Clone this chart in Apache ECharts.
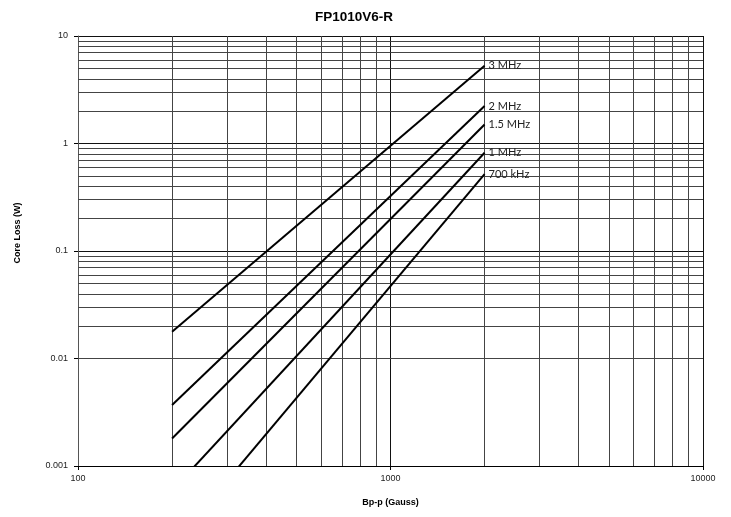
<!DOCTYPE html>
<html>
<head>
<meta charset="utf-8">
<script src="https://cdn.jsdelivr.net/npm/echarts@6/dist/echarts.min.js"></script>
<style>
    html, body { margin: 0; padding: 0; background: #fff; }
    #chart { width: 731px; height: 517px; }
</style>
</head>
<body>
<div id="chart"></div>
<script>
    // 曲线名称（频率）
    let seriesNames = ['3 MHz', '2 MHz', '1.5 MHz', '1 MHz', '700 kHz'];
    // Bp-p (Gauss) 取值点
    let fluxPoints = [200, 2000];
    // 各频率下的损耗 (W)
    let loss3MHz = [0.0177, 5.3];
    let loss2MHz = [0.0037, 2.23];
    let loss15MHz = [0.0018, 1.5];
    let loss1MHz = [0.00059, 0.82];
    let loss700kHz = [0.00018, 0.52];
    // 坐标轴刻度
    let xTicks = [100, 1000, 10000];
    let yTicks = [0.001, 0.01, 0.1, 1, 10];
    // 网格次刻度（每个十倍程内的 2..9）
    let xMinor = [200, 300, 400, 500, 600, 700, 800, 900, 2000, 3000, 4000, 5000, 6000, 7000, 8000, 9000];
    let yMinor = [0.002, 0.003, 0.004, 0.005, 0.006, 0.007, 0.008, 0.009,
        0.02, 0.03, 0.04, 0.05, 0.06, 0.07, 0.08, 0.09,
        0.2, 0.3, 0.4, 0.5, 0.6, 0.7, 0.8, 0.9,
        2, 3, 4, 5, 6, 7, 8, 9];

    let lossData = [loss3MHz, loss2MHz, loss15MHz, loss1MHz, loss700kHz];

    let chart = echarts.init(document.getElementById('chart'));

    let lineSeries = seriesNames.map(function (name, i) {
        return {
            name: name,
            type: 'line',
            z: 5,
            showSymbol: false,
            symbol: 'none',
            clip: true,
            data: fluxPoints.map(function (x, j) { return [x, lossData[i][j]]; }),
            lineStyle: { color: '#000', width: 2 },
            endLabel: {
                show: true,
                formatter: '{a}',
                distance: 4,
                color: '#222',
                fontFamily: 'Lato',
                fontSize: 11
            }
        };
    });

    // 网格线（次刻度）
    let gridLines = xMinor.map(function (v) { return { xAxis: v }; })
        .concat(yMinor.map(function (v) { return { yAxis: v }; }));

    lineSeries.push({
        name: 'grid',
        type: 'line',
        z: 1,
        data: [],
        markLine: {
            silent: true,
            symbol: ['none', 'none'],
            animation: false,
            label: { show: false },
            lineStyle: { type: 'solid', color: '#444', width: 1 },
            data: gridLines
        }
    });

    let option = {
        animation: false,
        backgroundColor: '#fff',
        title: {
            text: 'FP1010V6-R',
            left: 310,
            top: 5,
            textStyle: { fontFamily: 'Liberation Sans', fontSize: 13.5, fontWeight: 'bold', color: '#000' }
        },
        grid: { left: 78, right: 28, top: 36, bottom: 51 },
        xAxis: {
            type: 'log',
            logBase: 10,
            min: xTicks[0],
            max: xTicks[xTicks.length - 1],
            name: 'Bp-p (Gauss)',
            nameLocation: 'middle',
            nameGap: 32,
            nameTextStyle: { fontFamily: 'Liberation Sans', fontSize: 9, fontWeight: 'bold', color: '#000' },
            axisLine: { lineStyle: { color: '#000', width: 1 } },
            axisTick: { show: true, length: 4, lineStyle: { color: '#000' } },
            axisLabel: {
                fontFamily: 'Liberation Sans', fontSize: 9, color: '#222', margin: 8,
                formatter: function (v) { return String(v); }
            },
            splitLine: { show: true, lineStyle: { color: '#111', width: 1 } }
        },
        yAxis: {
            type: 'log',
            logBase: 10,
            min: yTicks[0],
            max: yTicks[yTicks.length - 1],
            name: 'Core Loss (W)',
            nameLocation: 'middle',
            nameGap: 56,
            nameTextStyle: {
                fontFamily: 'Liberation Sans', fontSize: 9, fontWeight: 'bold', color: '#000',
                padding: [0, 0, 0, 36]
            },
            axisLine: { show: true, lineStyle: { color: '#555', width: 1 } },
            axisTick: { show: true, length: 4, lineStyle: { color: '#000' } },
            axisLabel: {
                fontFamily: 'Liberation Sans', fontSize: 9, color: '#222', margin: 10,
                formatter: function (v) { return String(v); }
            },
            splitLine: { show: true, lineStyle: { color: '#111', width: 1 } }
        },
        series: lineSeries
    };
    chart.setOption(option);
</script>
</body>
</html>
